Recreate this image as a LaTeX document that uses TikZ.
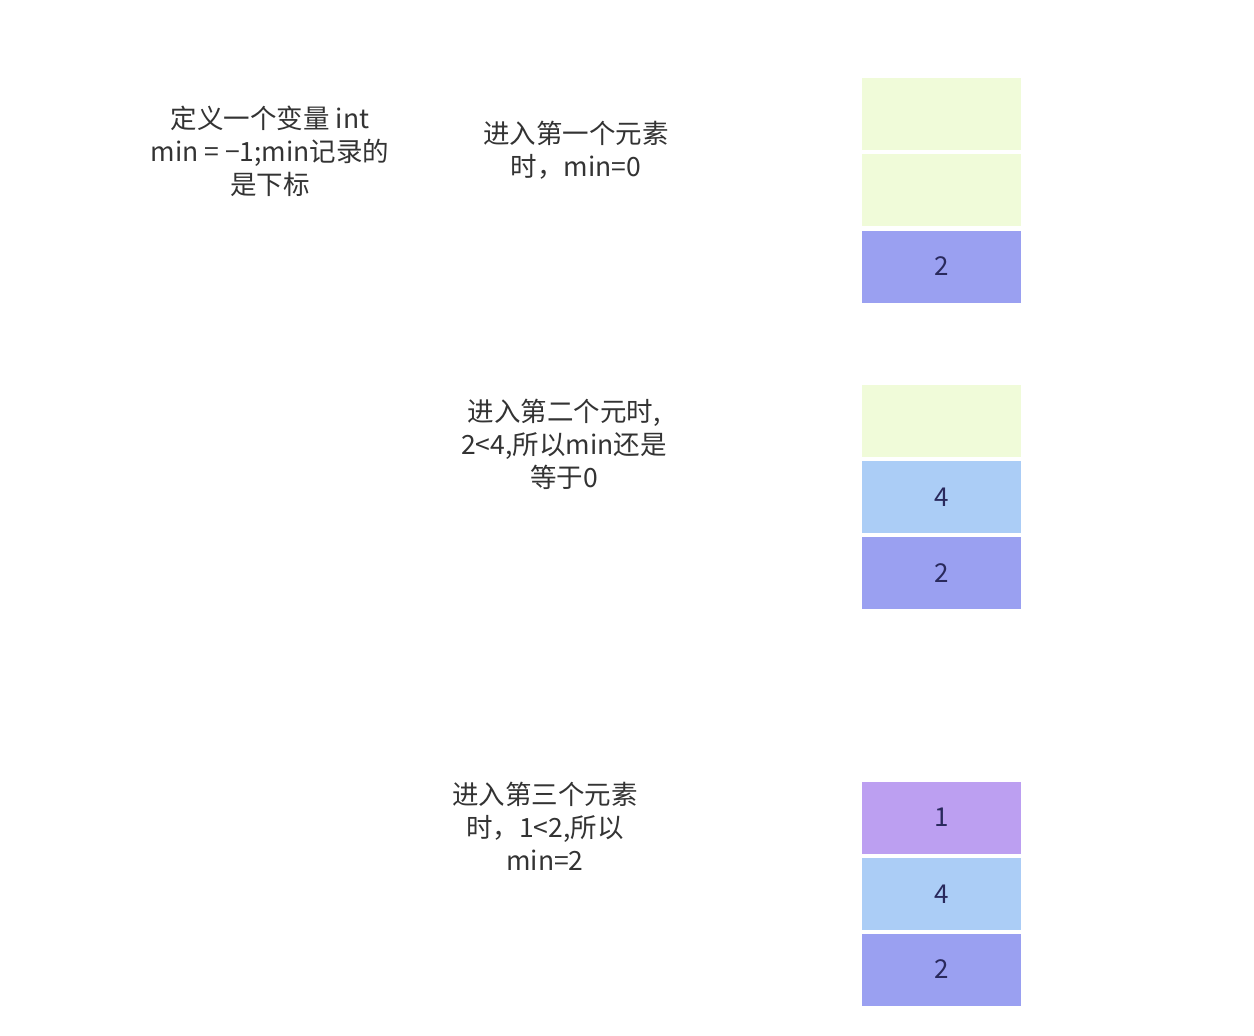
\documentclass[tikz,border=0pt]{standalone}
\usepackage{fontspec}
\setmainfont{Noto Sans CJK SC}
\definecolor{cellgreen}{HTML}{F0FBD9}
\definecolor{cellblue}{HTML}{ABCDF6}
\definecolor{cellindigo}{HTML}{9AA0F1}
\definecolor{cellpurple}{HTML}{BC9FF1}
\definecolor{txtgray}{HTML}{333333}
\tikzset{
  cell/.style={minimum width=159pt, minimum height=72pt, inner sep=0pt,
    font=\fontsize{26}{30}\selectfont, text=txtgray!80!blue},
  note/.style={align=center, text=txtgray, font=\fontsize{26.5}{33}\selectfont}
}
\begin{document}
\begin{tikzpicture}[x=1pt,y=-1pt]
\useasboundingbox (0,0) rectangle (1254,1036);
% notes
\node[note] (intro) at (270,151) {定义一个变量 int\\min = −1;min记录的\\是下标};
\node[note] (step1) at (576,150.5) {进入第一个元素\\时，min=0};
\node[note] (step2) at (564,444) {进入第二个元时,\\2<4,所以min还是\\等于0};
\node[note] (step3) at (545,826) {进入第三个元素\\时，1<2,所以\\min=2};
% stack after first element
\node[cell, fill=cellgreen] (s1a) at (941.5,114) {};
\node[cell, fill=cellgreen] (s1b) at (941.5,190) {};
\node[cell, fill=cellindigo] (s1c) at (941.5,266.5) {2};
% stack after second element
\node[cell, fill=cellgreen] (s2a) at (941.5,421) {};
\node[cell, fill=cellblue] (s2b) at (941.5,497) {4};
\node[cell, fill=cellindigo] (s2c) at (941.5,573) {2};
% stack after third element
\node[cell, fill=cellpurple] (s3a) at (941.5,817.5) {1};
\node[cell, fill=cellblue] (s3b) at (941.5,894) {4};
\node[cell, fill=cellindigo] (s3c) at (941.5,969.5) {2};
\end{tikzpicture}
\end{document}
